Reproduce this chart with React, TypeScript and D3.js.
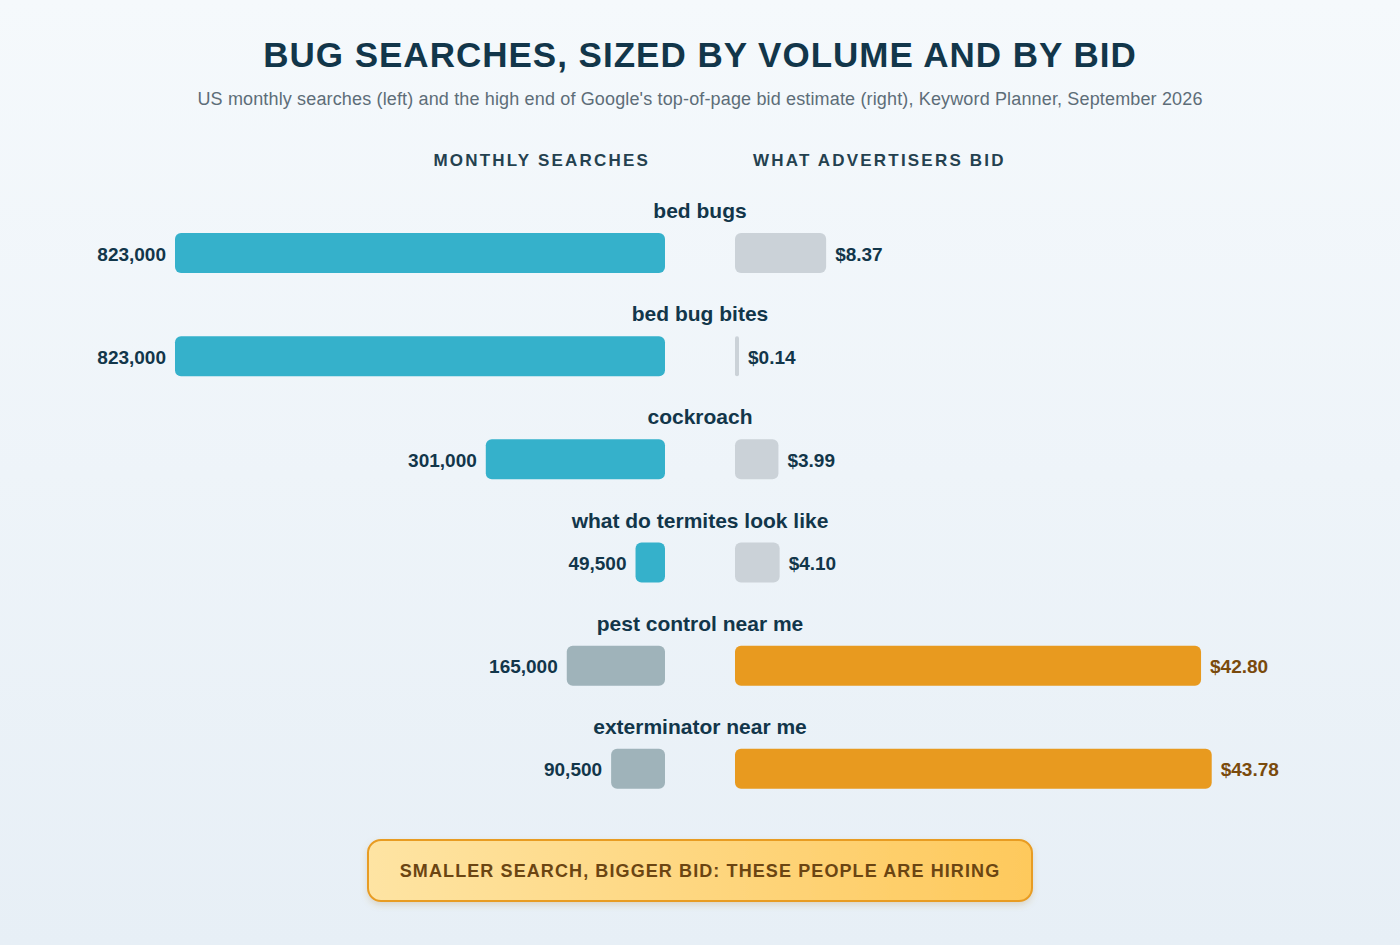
import React from "react";
import * as d3 from "d3";

const keywords = ["bed bugs", "bed bug bites", "cockroach", "what do termites look like", "pest control near me", "exterminator near me"];
const searches = [823000, 823000, 301000, 49500, 165000, 90500];
const bids = [8.37, 0.14, 3.99, 4.1, 42.8, 43.78];
const hiring = [false, false, false, false, true, true];

const W = 1400;
const H = 945;
const font = "'Liberation Sans', Arial, Helvetica, sans-serif";

export default function App() {
  const cx = 700;
  const leftEnd = 665;
  const rightStart = 735;
  const maxW = 490;
  const xs = d3.scaleLinear().domain([0, 823000]).range([0, maxW]);
  const xb = d3.scaleLinear().domain([0, 45]).range([0, maxW]);
  const y = d3.scaleBand<number>().domain(d3.range(keywords.length)).range([191, 810]).paddingInner(0).paddingOuter(0);
  const fmtS = d3.format(",");
  const fmtB = (v: number) => "$" + v.toFixed(2);

  return (
    <svg width={W} height={H} style={{ position: "absolute", left: 0, top: 0, display: "block" }} fontFamily={font}>
      <defs>
        <linearGradient id="bg" x1="0" y1="0" x2="0" y2="1">
          <stop offset="0%" stopColor="#f5f9fc" />
          <stop offset="100%" stopColor="#e7eff6" />
        </linearGradient>
        <linearGradient id="callout" x1="0" y1="0" x2="1" y2="0">
          <stop offset="0%" stopColor="#fee4a3" />
          <stop offset="100%" stopColor="#fec95c" />
        </linearGradient>
        <filter id="shadow" x="-10%" y="-30%" width="120%" height="170%">
          <feDropShadow dx="0" dy="3" stdDeviation="3" floodColor="#b08a40" floodOpacity="0.25" />
        </filter>
      </defs>
      <rect x={0} y={0} width={W} height={H} fill="url(#bg)" />
      <text x={cx} y={67} textAnchor="middle" fontSize={35} fontWeight="bold" fill="#12364a" letterSpacing={1}>
        BUG SEARCHES, SIZED BY VOLUME AND BY BID
      </text>
      <text x={cx} y={105} textAnchor="middle" fontSize={18} fill="#5d6d78" letterSpacing={0.15}>
        US monthly searches (left) and the high end of Google's top-of-page bid estimate (right), Keyword Planner, September 2026
      </text>
      <text x={650} y={166} textAnchor="end" fontSize={17} fontWeight="bold" fill="#24414f" letterSpacing={2.2}>
        MONTHLY SEARCHES
      </text>
      <text x={753} y={166} textAnchor="start" fontSize={17} fontWeight="bold" fill="#24414f" letterSpacing={2.2}>
        WHAT ADVERTISERS BID
      </text>
      {keywords.map((k, i) => {
        const y0 = y(i)!;
        const barY = y0 + 42;
        const barH = 40;
        const sw = xs(searches[i]);
        const bw = Math.max(4, xb(bids[i]));
        const mid = barY + barH / 2;
        return (
          <g key={k}>
            <text x={cx} y={y0 + 27} textAnchor="middle" fontSize={21} fontWeight="bold" fill="#12364a">
              {k}
            </text>
            <rect x={leftEnd - sw} y={barY} width={sw} height={barH} rx={6} fill={hiring[i] ? "#9fb3ba" : "#35b1cb"} />
            <text x={leftEnd - sw - 9} y={mid + 1} dy="0.35em" textAnchor="end" fontSize={19} fontWeight="bold" fill="#12364a">
              {fmtS(searches[i])}
            </text>
            <rect x={rightStart} y={barY} width={bw} height={barH} rx={bids[i] < 1 ? 2 : 6} fill={hiring[i] ? "#e89a1f" : "#cbd2d8"} />
            <text x={rightStart + bw + 9} y={mid + 1} dy="0.35em" textAnchor="start" fontSize={19} fontWeight="bold" fill={hiring[i] ? "#7a4a0c" : "#12364a"}>
              {fmtB(bids[i])}
            </text>
          </g>
        );
      })}
      <rect x={368} y={840} width={664} height={61} rx={13} fill="url(#callout)" stroke="#e89c22" strokeWidth={2} filter="url(#shadow)" />
      <text x={cx} y={871} dy="0.35em" textAnchor="middle" fontSize={18} fontWeight="bold" fill="#6b4512" letterSpacing={1.1}>
        SMALLER SEARCH, BIGGER BID: THESE PEOPLE ARE HIRING
      </text>
    </svg>
  );
}
